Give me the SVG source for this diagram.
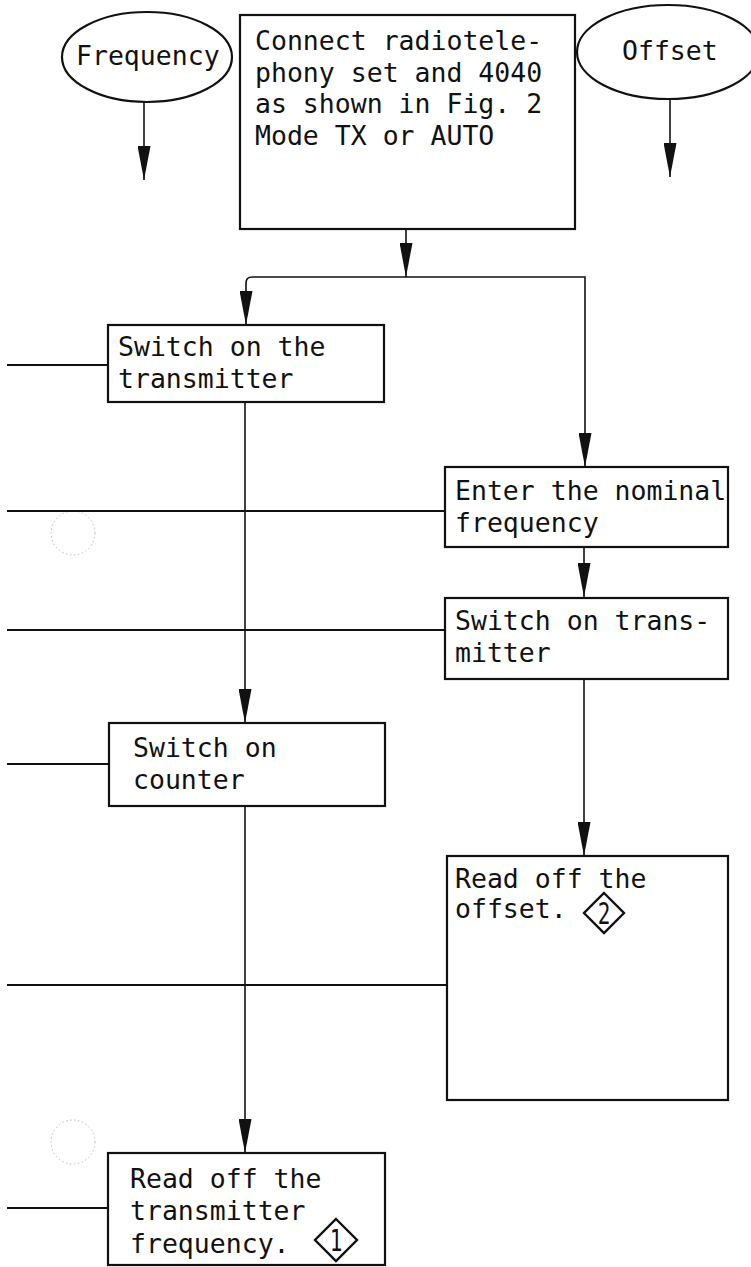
<svg xmlns="http://www.w3.org/2000/svg" width="751" height="1267" viewBox="0 0 751 1267">
<defs>
<style>
.box{fill:#fff;stroke:#111;stroke-width:2.2}
.ell{fill:#fff;stroke:#111;stroke-width:2.2}
.con{fill:none;stroke:#111;stroke-width:1.6}
.side{fill:none;stroke:#111;stroke-width:2}
.t{font-family:"DejaVu Sans Mono","Liberation Mono",monospace;font-size:26.5px;fill:#111}
.n{font-family:"DejaVu Sans Mono","Liberation Mono",monospace;font-size:30px;fill:#111;text-anchor:middle}
.dia{fill:#fff;stroke:#111;stroke-width:2.4}
.hole{fill:none;stroke:#bbb;stroke-width:1;stroke-dasharray:1.5 2.5}
</style>
<marker id="ah" viewBox="0 0 34 13" refX="34" refY="6.5" markerWidth="34" markerHeight="13" markerUnits="userSpaceOnUse" orient="auto">
<path d="M0,0 L34,6.5 L0,13 Z" fill="#111"/>
</marker>
</defs>
<rect width="751" height="1267" fill="#fff"/>
<circle class="hole" cx="73" cy="533" r="22"/>
<circle class="hole" cx="73" cy="1142" r="22"/>
<g id="connectors">
<path class="con" d="M144,102 V180" marker-end="url(#ah)"/>
<path class="con" d="M670,100 V177" marker-end="url(#ah)"/>
<path class="con" d="M406,229 V277" marker-end="url(#ah)"/>
<path class="con" d="M406,277 H252 Q246,277 246,283 V325" marker-end="url(#ah)"/>
<path class="con" d="M406,277 H585 V467" marker-end="url(#ah)"/>
<path class="con" d="M245,403 V723" marker-end="url(#ah)"/>
<path class="con" d="M245,806 V1153" marker-end="url(#ah)"/>
<path class="con" d="M584,547 V597" marker-end="url(#ah)"/>
<path class="con" d="M584,679 V856" marker-end="url(#ah)"/>
<path class="side" d="M7,365 H108"/>
<path class="side" d="M7,511 H445"/>
<path class="side" d="M7,630 H445"/>
<path class="side" d="M7,764 H109"/>
<path class="side" d="M7,985 H446"/>
<path class="side" d="M7,1208 H108"/>
</g>
<g id="frequency">
<ellipse class="ell" cx="147" cy="57" rx="85" ry="45"/>
<text class="t" x="76" y="65">Frequency</text>
</g>
<g id="offset">
<ellipse class="ell" cx="668" cy="52" rx="91" ry="47"/>
<text class="t" x="622" y="60">Offset</text>
</g>
<g id="connect">
<rect class="box" x="240" y="15" width="335" height="214"/>
<text class="t" x="255" y="50">Connect radiotele-</text>
<text class="t" x="255" y="82">phony set and 4040</text>
<text class="t" x="255" y="113">as shown in Fig. 2</text>
<text class="t" x="255" y="145">Mode TX or AUTO</text>
</g>
<g id="switch-transmitter">
<rect class="box" x="108" y="325" width="276" height="77"/>
<text class="t" x="118" y="356">Switch on the</text>
<text class="t" x="118" y="388">transmitter</text>
</g>
<g id="enter-nominal">
<rect class="box" x="445" y="467" width="283" height="80"/>
<text class="t" x="455" y="500">Enter the nominal</text>
<text class="t" x="455" y="532">frequency</text>
</g>
<g id="switch-trans">
<rect class="box" x="445" y="598" width="283" height="81"/>
<text class="t" x="455" y="630">Switch on trans-</text>
<text class="t" x="455" y="662">mitter</text>
</g>
<g id="switch-counter">
<rect class="box" x="109" y="723" width="276" height="83"/>
<text class="t" x="133" y="757">Switch on</text>
<text class="t" x="133" y="789">counter</text>
</g>
<g id="read-offset">
<rect class="box" x="447" y="856" width="281" height="244"/>
<text class="t" x="455" y="888">Read off the</text>
<text class="t" x="455" y="918">offset.</text>
<polygon class="dia" points="604,893 624,913 604,933 584,913"/>
<text class="n" transform="translate(604,924) scale(0.7,1)">2</text>
</g>
<g id="read-frequency">
<rect class="box" x="108" y="1153" width="277" height="112"/>
<text class="t" x="130" y="1188">Read off the</text>
<text class="t" x="130" y="1220">transmitter</text>
<text class="t" x="130" y="1253">frequency.</text>
<polygon class="dia" points="336,1219 357,1240 336,1261 315,1240"/>
<text class="n" transform="translate(336,1251) scale(0.7,1)">1</text>
</g>
</svg>
